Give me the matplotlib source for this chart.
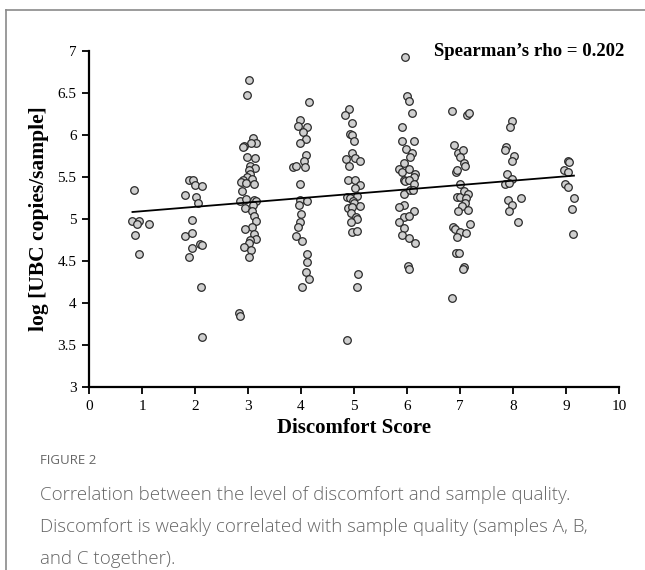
import numpy as np
import matplotlib
matplotlib.use("Agg")
import matplotlib.pyplot as plt
from matplotlib.lines import Line2D

# discomfort score (jittered) and log UBC copies
score_1 = [0.84, 0.82, 0.94, 0.91, 1.13, 0.87, 0.94]
ubc_1 = [5.34, 4.98, 4.98, 4.94, 4.94, 4.81, 4.58]

score_2 = [1.88, 1.97, 2.00, 2.14, 1.82, 2.02, 2.06, 1.94, 1.82, 1.95, 2.09, 2.14, 1.95, 1.88, 2.11, 2.13]
ubc_2 = [5.46, 5.46, 5.40, 5.39, 5.28, 5.26, 5.19, 4.99, 4.80, 4.83, 4.70, 4.69, 4.65, 4.55, 4.19, 3.59]

score_3 = [3.01, 2.99, 3.09, 3.15, 3.06, 2.93, 2.91, 2.99, 3.13, 3.04, 3.13, 3.02, 3.04, 2.99,
           3.07, 2.91, 2.87, 2.97, 3.12, 2.88, 2.84, 2.96, 3.12, 3.15, 3.10, 2.94, 3.07, 3.12,
           3.15, 3.08, 2.94, 3.12, 3.15, 3.04, 3.01, 2.93, 3.06, 3.02, 2.83, 2.85]
ubc_3 = [6.65, 6.48, 5.96, 5.91, 5.91, 5.87, 5.86, 5.74, 5.73, 5.63, 5.61, 5.58, 5.54, 5.50,
         5.48, 5.47, 5.44, 5.43, 5.42, 5.33, 5.21, 5.24, 5.23, 5.21, 5.17, 5.13, 5.10, 5.04,
         4.98, 4.90, 4.88, 4.82, 4.76, 4.75, 4.71, 4.67, 4.63, 4.55, 3.88, 3.84]

score_4 = [4.15, 3.99, 3.95, 4.12, 4.04, 4.09, 3.98, 4.09, 4.06, 3.84, 3.91, 4.08, 3.98,
           3.98, 4.11, 3.96, 4.00, 3.98, 3.94, 3.90, 4.01, 4.11, 4.11, 4.09, 4.16, 4.01]
ubc_4 = [6.39, 6.18, 6.11, 6.09, 6.03, 5.95, 5.91, 5.76, 5.69, 5.62, 5.63, 5.62, 5.42,
         5.23, 5.21, 5.17, 5.06, 4.96, 4.91, 4.80, 4.74, 4.58, 4.49, 4.37, 4.29, 4.19]

score_5 = [4.97, 4.92, 4.96, 5.00, 4.97, 4.85, 5.02, 5.11, 4.91, 4.88, 5.02, 5.11, 5.02,
           5.06, 4.87, 4.93, 4.98, 5.00, 4.88, 4.97, 5.11, 4.94, 5.04, 5.05, 4.95, 4.96,
           5.06, 5.08, 5.05, 4.86, 4.91, 4.83]
ubc_5 = [6.14, 6.01, 6.00, 5.93, 5.79, 5.72, 5.73, 5.69, 5.63, 5.46, 5.47, 5.40, 5.37,
         5.27, 5.26, 5.25, 5.21, 5.19, 5.13, 5.14, 5.15, 5.07, 5.02, 5.00, 4.97, 4.85,
         4.86, 4.35, 4.19, 3.56, 6.31, 6.24]

score_6 = [5.91, 5.91, 6.14, 5.99, 6.09, 6.06, 5.94, 5.85, 5.90, 6.04, 6.15, 6.13, 5.95,
           5.96, 6.04, 6.13, 5.95, 6.05, 6.11, 5.94, 5.85, 6.14, 5.95, 6.04, 5.84, 5.95,
           5.91, 6.04, 6.16, 6.02, 6.04, 5.96, 6.00, 6.04, 6.09]
ubc_6 = [6.10, 5.93, 5.93, 5.83, 5.79, 5.74, 5.67, 5.60, 5.56, 5.59, 5.54, 5.50, 5.47,
         5.45, 5.47, 5.42, 5.30, 5.35, 5.35, 5.17, 5.14, 5.10, 5.02, 5.03, 4.96, 4.89,
         4.81, 4.77, 4.71, 4.44, 4.41, 6.93, 6.46, 6.40, 6.26]

score_7 = [6.85, 7.13, 7.17, 6.89, 6.97, 7.06, 7.00, 7.07, 7.09, 6.92, 6.95, 7.00, 6.95,
           7.00, 7.08, 7.16, 7.11, 7.09, 7.04, 6.97, 7.15, 7.18, 6.86, 6.90, 7.00, 7.11,
           6.95, 6.93, 6.98, 7.08, 7.05, 6.84]
ubc_7 = [6.28, 6.24, 6.26, 5.88, 5.79, 5.82, 5.74, 5.67, 5.63, 5.56, 5.58, 5.42, 5.26,
         5.26, 5.33, 5.30, 5.25, 5.19, 5.15, 5.10, 5.11, 4.94, 4.90, 4.88, 4.85, 4.83,
         4.78, 4.60, 4.59, 4.43, 4.41, 4.06]

score_8 = [7.98, 7.95, 7.86, 7.85, 8.02, 7.98, 7.88, 7.98, 7.85, 7.93, 7.90, 8.16, 7.99, 7.93, 8.09]
ubc_8 = [6.17, 6.10, 5.86, 5.82, 5.75, 5.69, 5.54, 5.48, 5.42, 5.43, 5.23, 5.25, 5.17, 5.10, 4.96]

score_9 = [9.03, 9.06, 8.96, 9.03, 8.98, 9.03, 9.15, 9.11, 9.13]
ubc_9 = [5.69, 5.68, 5.58, 5.56, 5.42, 5.38, 5.25, 5.12, 4.82]

rho_text = "Spearman\u2019s rho = 0.202"
caption_head = "FIGURE 2"
caption_lines = ["Correlation between the level of discomfort and sample quality.",
                 "Discomfort is weakly correlated with sample quality (samples A, B,",
                 "and C together)."]

x = np.array(score_1 + score_2 + score_3 + score_4 + score_5 + score_6 + score_7 + score_8 + score_9)
y = np.array(ubc_1 + ubc_2 + ubc_3 + ubc_4 + ubc_5 + ubc_6 + ubc_7 + ubc_8 + ubc_9)

W, H = 645, 570
fig = plt.figure(figsize=(W / 100, H / 100), dpi=100)
ax = fig.add_axes([89 / W, 1 - 387 / H, (619 - 89) / W, (387 - 51) / H])

serif = "Liberation Serif"

ax.scatter(x, y, s=30, facecolor="#cfcfcf", edgecolor="#2a2a2a", linewidth=0.9, zorder=3)

# linear trend line
slope, intercept = np.polyfit(x, y, 1)
xl = np.array([x.min(), x.max()])
ax.plot(xl, intercept + slope * xl, color="black", linewidth=1.3, zorder=4)

ax.set_xlim(0, 10)
ax.set_ylim(3, 7)
ax.set_xticks(range(0, 11))
ax.set_yticks(np.arange(3, 7.01, 0.5))
ax.set_yticklabels(["3", "3.5", "4", "4.5", "5", "5.5", "6", "6.5", "7"])
for s in ["top", "right"]:
    ax.spines[s].set_visible(False)
for s in ["left", "bottom"]:
    ax.spines[s].set_linewidth(1.6)
ax.tick_params(direction="out", length=5, width=1.3, labelsize=11, pad=4)
for lab in ax.get_xticklabels() + ax.get_yticklabels():
    lab.set_fontfamily(serif)

ax.set_xlabel("Discomfort Score", fontfamily=serif, fontweight="bold", fontsize=15, labelpad=4)
ax.set_ylabel("log [UBC copies/sample]", fontfamily=serif, fontweight="bold", fontsize=15.5, labelpad=6)

fig.text(624 / W, 1 - 52 / H, rho_text, ha="right", va="center",
         fontfamily=serif, fontweight="bold", fontsize=13.5)

# frame around figure
fig.add_artist(Line2D([6 / W, 1], [1 - 10 / H, 1 - 10 / H], color="#8a8a8a", linewidth=1.2))
fig.add_artist(Line2D([6 / W, 6 / W], [0, 1 - 10 / H], color="#8a8a8a", linewidth=1.2))

fig.text(40 / W, 1 - 461 / H, caption_head, ha="left", va="center",
         fontfamily="Open Sans", fontsize=9.5, color="#666666")
for i, line in enumerate(caption_lines):
    fig.text(40 / W, 1 - (495 + 32 * i) / H, line, ha="left", va="center",
             fontfamily="Open Sans", fontweight="light", fontsize=13.5, color="#666666")

fig.savefig("out.png", dpi=100)
